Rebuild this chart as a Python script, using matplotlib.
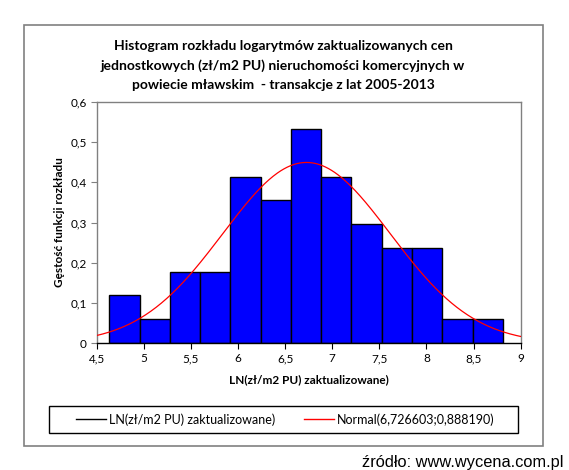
import numpy as np
import matplotlib
matplotlib.use("Agg")
import matplotlib.pyplot as plt
from matplotlib.patches import Rectangle
from matplotlib.lines import Line2D

# Data
bin_start = 4.634
bin_end = 8.810
densities = [0.119, 0.0596, 0.176, 0.176, 0.412, 0.355, 0.531, 0.412, 0.2955, 0.236, 0.236, 0.0596, 0.0596]
mu = 6.726603
sigma = 0.888190
x_ticks = [4.5, 5, 5.5, 6, 6.5, 7, 7.5, 8, 8.5, 9]
x_tick_labels = ["4,5", "5", "5,5", "6", "6,5", "7", "7,5", "8", "8,5", "9"]
y_ticks = [0, 0.1, 0.2, 0.3, 0.4, 0.5, 0.6]
y_tick_labels = ["0", "0,1", "0,2", "0,3", "0,4", "0,5", "0,6"]
title_lines = ["Histogram rozkładu logarytmów zaktualizowanych cen",
               "jednostkowych (zł/m2 PU) nieruchomości komercyjnych w",
               "powiecie mławskim  - transakcje z lat 2005-2013"]
xlabel = "LN(zł/m2 PU) zaktualizowane)"
ylabel = "Gęstość funkcji rozkładu"
legend_labels = ["LN(zł/m2 PU) zaktualizowane)", "Normal(6,726603;0,888190)"]
source = "źródło: www.wycena.com.pl"

plt.rcParams['font.family'] = ['Lato', 'DejaVu Sans']

W, H = 569, 470
fig = plt.figure(figsize=(W/100, H/100), dpi=100)
fig.patch.set_facecolor('white')

# outer border
fig.add_artist(Rectangle((24/W, 1-446/H), 519/W, 421/H, transform=fig.transFigure,
                         fill=False, edgecolor='#808080', linewidth=1.2))

ax = fig.add_axes([96.7/W, 1-343.3/H, 424/W, 241.6/H])
n = len(densities)
edges = np.linspace(bin_start, bin_end, n+1)
width = edges[1]-edges[0]
ax.bar(edges[:-1], densities, width=width, align='edge', color='#0000FF',
       edgecolor='black', linewidth=1.0, zorder=2)
xs = np.linspace(4.5, 9, 400)
ax.plot(xs, np.exp(-0.5*((xs-mu)/sigma)**2)/(sigma*np.sqrt(2*np.pi)),
        color='red', linewidth=0.9, zorder=3)
ax.set_xlim(4.5, 9)
ax.set_ylim(0, 0.6)
ax.set_xticks(x_ticks)
ax.set_xticklabels(x_tick_labels)
ax.set_yticks(y_ticks)
ax.set_yticklabels(y_tick_labels)
ax.tick_params(axis='both', direction='out', length=4, width=0.8, color='#808080',
               labelsize=8.5, pad=3)
for s in ['top', 'right', 'left']:
    ax.spines[s].set_color('#808080')
    ax.spines[s].set_linewidth(1.0)
ax.spines['bottom'].set_color('black')
ax.spines['bottom'].set_linewidth(1.0)
ax.tick_params(axis='x', color='black')
ax.set_xlabel(xlabel, fontsize=8.5, fontweight='bold', labelpad=7)
ax.set_ylabel(ylabel, fontsize=8.5, fontweight='bold', labelpad=4)

for i, (t, yy) in enumerate(zip(title_lines, [46, 65.5, 85])):
    fig.text(283/W, 1-yy/H, t, ha='center', va='center', fontsize=10, fontweight='bold')

# legend box
fig.add_artist(Rectangle((49.3/W, 1-432.5/H), 468.7/W, 26.5/H, transform=fig.transFigure,
                         fill=False, edgecolor='black', linewidth=1.0))
handles = [Line2D([], [], color='black', linewidth=1.0),
           Line2D([], [], color='red', linewidth=1.0)]
leg = fig.legend(handles, legend_labels, ncol=2, loc='center',
                 bbox_to_anchor=(285.5/W, 1-419.5/H),
                 fontsize=9, frameon=False,
                 handlelength=2.4, handletextpad=0.25, borderaxespad=0, columnspacing=2.3)

fig.text(564/W, 1-462/H, source, ha='right', va='center', fontsize=11.8,
         family=['Liberation Sans', 'DejaVu Sans'])

fig.savefig('out.png', dpi=100)
